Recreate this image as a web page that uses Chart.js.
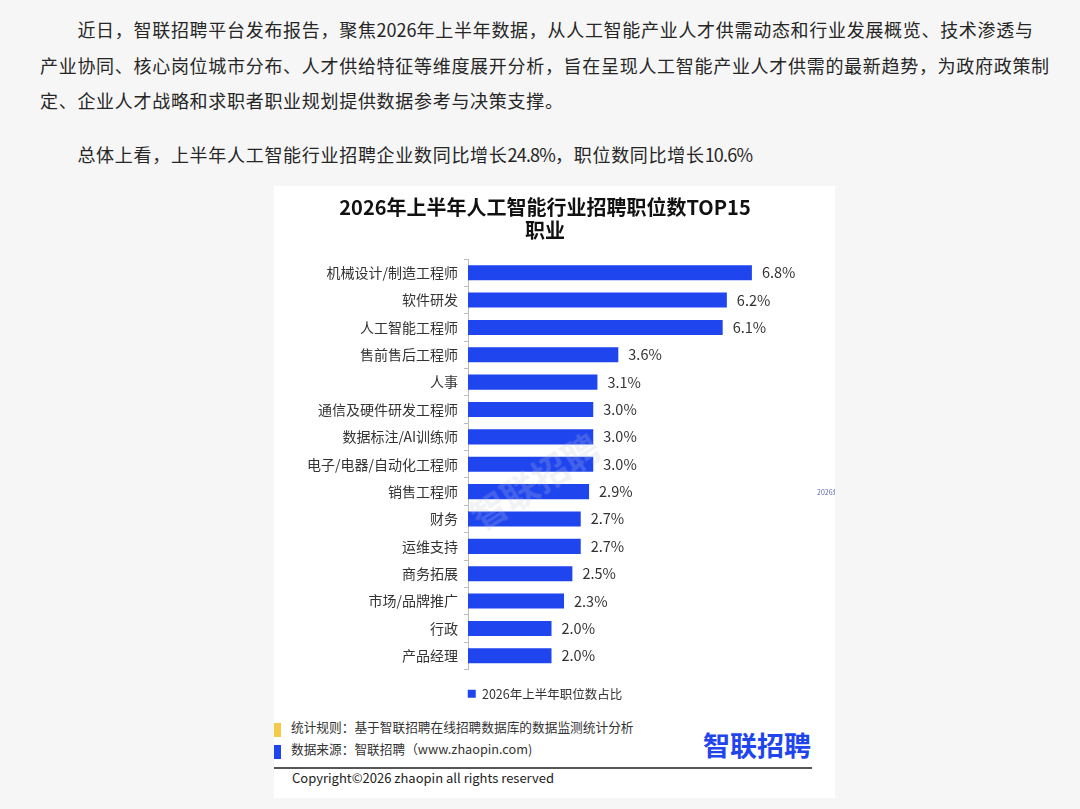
<!DOCTYPE html>
<html>
<head>
<meta charset="utf-8">
<script src="https://cdn.jsdelivr.net/npm/chart.js@4.4.1/dist/chart.umd.min.js"></script>
<style>
  html, body { margin: 0; padding: 0; }
  body {
    width: 1080px; height: 809px; overflow: hidden; position: relative;
    background: #f6f6f6; font-family: "Noto Sans CJK SC", "Noto Sans", sans-serif; color: #262626;
  }
  .para {
    position: absolute; left: 40px; white-space: nowrap;
    font-size: 18px; letter-spacing: 0.7px; line-height: 35.5px;
  }
  .para .lat { letter-spacing: 0; }
  .para .pct { letter-spacing: -0.8px; }
  #card {
    position: absolute; left: 274px; top: 186px; width: 561px; height: 612px;
    background: #fff; overflow: hidden;
  }
  #chartBox { position: absolute; left: 0; top: 0; width: 561px; height: 530px; }
  .mark { position: absolute; width: 7px; height: 14px; left: 0; }
  .note { position: absolute; left: 17px; font-size: 12.7px; color: #333; white-space: nowrap; }
  #logo {
    position: absolute; left: 429px; top: 539px; font-size: 27px; font-weight: 700;
    color: #1f45ef; white-space: nowrap;
  }
  #rule { position: absolute; left: 0; top: 581px; width: 538px; height: 1.5px; background: #555; }
  #copy { position: absolute; left: 18px; top: 582px; font-size: 13px; color: #222; white-space: nowrap; }
  #wm {
    position: absolute; left: 188px; top: 268px; font-size: 36px; font-weight: 700;
    color: rgba(190, 195, 215, 0.22); transform: rotate(-32deg); white-space: nowrap; pointer-events: none;
  }
  #side { position: absolute; left: 543px; top: 301px; font-size: 7px; color: #5a6aa8; white-space: nowrap; }
</style>
</head>
<body>
<div class="para" style="top:12px;">
&#12288;&#12288;近日，智联招聘平台发布报告，聚焦<span class="lat">2026</span>年上半年数据，从人工智能产业人才供需动态和行业发展概览、技术渗透与<br>产业协同、核心岗位城市分布、人才供给特征等维度展开分析，旨在呈现人工智能产业人才供需的最新趋势，为政府政策制<br>定、企业人才战略和求职者职业规划提供数据参考与决策支撑。
</div>
<div class="para" style="top:137px;">&#12288;&#12288;总体上看，上半年人工智能行业招聘企业数同比增长<span class="pct">24.8%</span>，职位数同比增长<span class="pct">10.6%</span></div>

<div id="card">
  <div id="chartBox"><canvas id="chart"></canvas></div>
  <div id="wm">智联招聘</div>
  <div id="side">2026年</div>
  <div class="mark" style="top:537px;background:#f7c94a;"></div>
  <div class="note" style="top:531px;">统计规则：基于智联招聘在线招聘数据库的数据监测统计分析</div>
  <div class="mark" style="top:559px;background:#1f45ef;"></div>
  <div class="note" style="top:553px;">数据来源：智联招聘（www.zhaopin.com)</div>
  <div id="logo">智联招聘</div>
  <div id="rule"></div>
  <div id="copy">Copyright©2026 zhaopin all rights reserved</div>
</div>

<script>
const jobs = ['机械设计/制造工程师', '软件研发', '人工智能工程师', '售前售后工程师', '人事',
  '通信及硬件研发工程师', '数据标注/AI训练师', '电子/电器/自动化工程师', '销售工程师', '财务',
  '运维支持', '商务拓展', '市场/品牌推广', '行政', '产品经理'];
const shares = [6.8, 6.2, 6.1, 3.6, 3.1, 3.0, 3.0, 3.0, 2.9, 2.7, 2.7, 2.5, 2.3, 2.0, 2.0];
const seriesName = '2026年上半年职位数占比';
const titleLines = ['2026年上半年人工智能行业招聘职位数TOP15', '职业'];

const cjk = '"Noto Sans CJK SC", "Noto Sans", sans-serif';

const valueLabels = {
  id: 'valueLabels',
  afterDatasetsDraw(chart) {
    const ctx = chart.ctx;
    const meta = chart.getDatasetMeta(0);
    ctx.save();
    ctx.font = '14.5px ' + cjk;
    ctx.fillStyle = '#333';
    ctx.textAlign = 'left';
    ctx.textBaseline = 'middle';
    meta.data.forEach((bar, i) => {
      ctx.fillText(shares[i].toFixed(1) + '%', bar.x + 10, bar.y);
    });
    ctx.restore();
  }
};

new Chart(document.getElementById('chart'), {
  type: 'bar',
  data: {
    labels: jobs,
    datasets: [{
      label: seriesName,
      data: shares,
      backgroundColor: '#1f45ef',
      barPercentage: 0.55,
      categoryPercentage: 1
    }]
  },
  options: {
    indexAxis: 'y',
    responsive: true,
    maintainAspectRatio: false,
    animation: false,
    layout: { padding: { left: 14, right: 33, top: 0, bottom: 6 } },
    scales: {
      x: { display: false, min: 0, max: 8 },
      y: {
        afterFit: (scale) => { scale.width = 180; },
        grid: { display: true, drawOnChartArea: false, tickLength: 4, color: '#bbb' },
        border: { display: true, color: '#bbb' },
        ticks: { color: '#333', padding: 6, font: { family: cjk, size: 14 } }
      }
    },
    plugins: {
      title: {
        display: true,
        text: titleLines,
        color: '#111',
        font: { family: cjk, size: 20, weight: 'bold', lineHeight: 1.15 },
        padding: { top: 10, bottom: 17 }
      },
      legend: {
        position: 'bottom',
        labels: {
          boxWidth: 8, boxHeight: 8, padding: 18,
          color: '#333', font: { family: cjk, size: 12.5 }
        }
      },
      tooltip: { enabled: false }
    }
  },
  plugins: [valueLabels]
});
</script>
</body>
</html>
